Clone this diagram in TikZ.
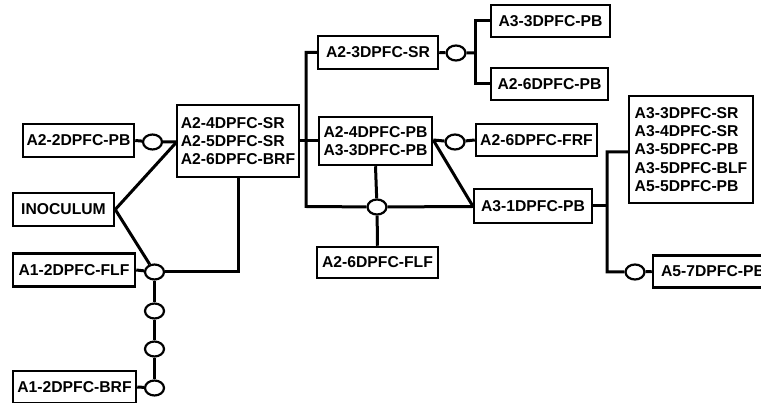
\documentclass[tikz,border=0pt]{standalone}
\usepackage{fontspec}
\setmainfont{Liberation Sans}
\usetikzlibrary{shapes.geometric}
\begin{document}
\begin{tikzpicture}[x=1pt,y=-1pt,
  line width=3pt,
  box/.style={draw,line width=2.5pt,rectangle,inner sep=0pt,fill=white,
    font=\fontsize{15.7}{18.4}\selectfont\bfseries,align=left},
  ring/.style={draw,ellipse,line width=2.2pt,fill=white,inner sep=0pt,minimum width=19pt,minimum height=15pt}]
\clip (0,0) rectangle (761,403);
\useasboundingbox (0,0) rectangle (761,403);
% boxes
\node[box,minimum width=111pt,minimum height=33pt] (p22) at (78.5,140.5) {A2-2DPFC-PB};
\node[box,minimum width=122pt,minimum height=72pt] (s456) at (238,141) {A2-4DPFC-SR\\A2-5DPFC-SR\\A2-6DPFC-BRF};
\node[box,minimum width=101pt,minimum height=33pt] (inoc) at (63.5,209.5) {INOCULUM};
\node[box,minimum width=122pt,minimum height=33pt] (flf12) at (74,270) {A1-2DPFC-FLF};
\node[box,minimum width=123pt,minimum height=32pt] (brf12) at (74.5,387) {A1-2DPFC-BRF};
\node[box,minimum width=120pt,minimum height=33pt] (sr23) at (378,52.5) {A2-3DPFC-SR};
\node[box,minimum width=119pt,minimum height=32pt] (pb33) at (550.5,21) {A3-3DPFC-PB};
\node[box,minimum width=117pt,minimum height=32pt] (pb26) at (549.5,84) {A2-6DPFC-PB};
\node[box,minimum width=113pt,minimum height=48pt] (pb24) at (375.5,141) {A2-4DPFC-PB\\A3-3DPFC-PB};
\node[box,minimum width=121pt,minimum height=32pt] (frf26) at (536.5,140) {A2-6DPFC-FRF};
\node[box,minimum width=118pt,minimum height=34pt] (pb31) at (533,206) {A3-1DPFC-PB};
\node[box,minimum width=121pt,minimum height=31pt] (flf26) at (377.5,262.5) {A2-6DPFC-FLF};
\node[box,minimum width=124pt,minimum height=107pt] (big) at (691,149.5) {A3-3DPFC-SR\\A3-4DPFC-SR\\A3-5DPFC-PB\\A3-5DPFC-BLF\\A5-5DPFC-PB};
\node[box,minimum width=120pt,minimum height=32pt] (pb57) at (713,271.5) {A5-7DPFC-PB};
% rings
\node[ring] (c1) at (152.5,142) {};
\node[ring] (c2) at (154.5,272) {};
\node[ring] (c3) at (154.5,311) {};
\node[ring] (c4) at (154.5,349) {};
\node[ring] (c5) at (154.5,388) {};
\node[ring] (c6) at (456,53) {};
\node[ring] (c7) at (455,142) {};
\node[ring] (c8) at (377,207) {};
\node[ring] (c9) at (635,272) {};
% junctions
\coordinate (j1) at (306,52.5);
\coordinate (j2) at (306,206.5);
\coordinate (j3) at (475,53);
\coordinate (j4) at (607,152);
\coordinate (j5) at (607,272);
\coordinate (j6) at (607,206);
% connectors
\draw (p22.east) -- (c1) -- (c1 -| s456.west);
\draw (inoc.east) -- ([yshift=-2pt]s456.west);
\draw (inoc.east) -- (c2);
\draw (flf12.east) -- (c2);
\draw (c2) -| (s456.south);
\draw (c2) -- (c3) -- (c4) -- (c5);
\draw (brf12.east) -- (c5);
\draw (s456.east) -- (pb24.west);
\draw (sr23.west) -- (j1) -- (j2) -- (c8) -- (j2 -| pb31.west);
\draw (sr23.east) -- (c6) -- (j3);
\draw (pb33.west) -| (j3) |- (pb26.west);
\draw ([yshift=1pt]pb24.east) -- (c7) -- (frf26.west);
\draw ([yshift=1pt]pb24.east) -- (pb31.west);
\draw (pb24.south) -- (c8) -- (flf26.north);
\draw (pb31.east) -- (j6);
\draw (j4 -| big.west) -- (j4) -- (j5) -- (c9) -- (pb57.west);
\end{tikzpicture}
\end{document}
